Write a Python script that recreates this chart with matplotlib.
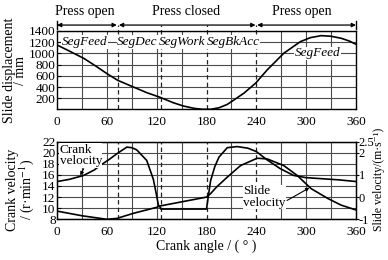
import matplotlib
matplotlib.use("Agg")
import matplotlib.pyplot as plt

plt.rcParams['font.family'] = ['Liberation Serif', 'DejaVu Serif']
plt.rcParams['mathtext.fontset'] = 'stix'

# ---- data ----
disp_angle = [0, 15, 32, 45, 60, 73, 92, 108, 124, 140, 152, 165, 175, 185, 195,
              205, 213, 225, 239, 253, 273, 293, 305, 318, 330, 342, 352, 360]
disp = [1150, 1040, 913, 790, 640, 520, 400, 300, 217, 120, 62, 20, 3, 3, 30,
        90, 169, 290, 467, 704, 1002, 1209, 1280, 1316, 1305, 1270, 1220, 1162]

crank_angle = [0, 15, 32, 45, 52, 62, 72, 84, 90, 96, 108, 116, 120, 122, 124, 125,
               150, 180, 182, 185, 190, 195, 205, 217, 230, 240, 253, 269, 285,
               300, 320, 340, 360]
crank_vel = [14.8, 15.2, 15.9, 16.9, 17.7, 18.7, 19.8, 21.0, 20.9, 20.5, 18.6, 15.2,
             12.2, 10.6, 10.2, 9.85, 9.85, 9.85, 12.0, 15.0, 17.5, 19.2, 20.9, 21.1,
             20.8, 20.2, 18.7, 17.1, 15.9, 15.5, 15.3, 15.1, 14.8]

slide_angle = [0, 30, 60, 72, 92, 120, 124, 152, 180, 185, 192, 205, 221, 241, 253,
               273, 289, 306, 326, 342, 360]
slide_vel = [-0.63, -0.84, -1.0, -0.96, -0.73, -0.46, -0.4, -0.2, 0.0, 0.16, 0.45,
             0.9, 1.42, 1.75, 1.72, 1.42, 0.98, 0.38, -0.06, -0.36, -0.58]

x_ticks = [0, 60, 120, 180, 240, 300, 360]
disp_ticks = [200, 400, 600, 800, 1000, 1200, 1400]
crank_ticks = [8, 10, 12, 14, 16, 18, 20, 22]
slide_ticks = [-1, 0, 1, 2, 2.5]
slide_tick_labels = ['-1', '0', '1', '2', '2.5']

phase_labels = ['Press open', 'Press closed', 'Press open']
phase_x = [33, 155, 295]
seg_labels = ['SegFeed', 'SegDec', 'SegWork', 'SegBkAcc', 'SegFeed']
seg_x = [33, 97, 151, 212, 314]
seg_y = [1200, 1200, 1200, 1200, 1000]
dashed_x = [73, 125, 180, 240]
solid_grid_x = [30, 60, 90, 120, 150, 210, 270, 300, 330]

FS = 9.5
GRID = dict(color='#4a4a4a', lw=0.8)

fig = plt.figure(figsize=(3.88, 2.6), dpi=100)
ax1 = fig.add_axes([0.147, 0.579, 0.7705, 0.302])
ax2 = fig.add_axes([0.147, 0.1565, 0.7705, 0.299])
ax2r = ax2.twinx()

for ax in (ax1, ax2):
    ax.set_xlim(0, 360)
    ax.set_xticks(x_ticks)
    ax.tick_params(axis='x', length=0, pad=5, labelsize=FS)
    ax.tick_params(axis='y', length=3, direction='in', pad=1, labelsize=FS)
    for x in solid_grid_x:
        ax.axvline(x, zorder=0.5, **GRID)
    for s in ax.spines.values():
        s.set_linewidth(1.0)

# ---- top axes ----
ax1.set_ylim(0, 1400)
ax1.set_yticks(disp_ticks)
for y in disp_ticks:
    ax1.axhline(y, zorder=0.5, **GRID)
for x in dashed_x:
    ax1.plot([x, x], [0, 1510], color='#222222', lw=0.9, ls=(0, (3.5, 2.5)),
             clip_on=False, zorder=1)
ax1.plot(disp_angle, disp, color='black', lw=1.2, zorder=3)
ax1.set_ylabel('Slide displacement\n/ mm', fontsize=FS + 0.5, linespacing=0.85)
ax1.yaxis.set_label_coords(-0.1, 0.5)

for xt, yt, t in zip(seg_x, seg_y, seg_labels):
    ax1.text(xt, yt, t, fontsize=FS, style='italic', ha='center', va='center',
             zorder=2, bbox=dict(facecolor='white', edgecolor='none', pad=0.6))

arr_y = 1505
gaps = [(0, 72), (74.5, 239), (241, 360)]
for (a, b) in gaps:
    ax1.annotate('', xy=(b, arr_y), xytext=(a, arr_y),
                 arrowprops=dict(arrowstyle='<|-|>', color='black', lw=0.9,
                                 shrinkA=0, shrinkB=0, mutation_scale=6),
                 annotation_clip=False)
for x in (0, 360):
    ax1.plot([x, x], [arr_y - 70, arr_y + 70], color='black', lw=1.0, clip_on=False)
for xc, lab in zip(phase_x, phase_labels):
    ax1.text(xc, 1740, lab, fontsize=FS + 0.5, ha='center', va='center',
             clip_on=False)

# ---- bottom axes ----
ax2.set_ylim(8, 22)
ax2.set_yticks(crank_ticks)
for y in crank_ticks:
    ax2.axhline(y, zorder=0.5, **GRID)
for x in dashed_x:
    ax2.plot([x, x], [8, 22], color='#222222', lw=0.9, ls=(0, (3.5, 2.5)),
             zorder=1)
ax2.plot(crank_angle, crank_vel, color='black', lw=1.2, zorder=3)
ax2.set_ylabel('Crank velocity\n/ (r·min$^{-1}$)', fontsize=FS + 0.5, linespacing=0.85)
ax2.yaxis.set_label_coords(-0.07, 0.38)
ax2.set_xlabel('Crank angle / ( ° )', fontsize=FS + 0.5, labelpad=1)

ax2r.set_ylim(-1, 2.5)
ax2r.set_yticks(slide_ticks)
ax2r.set_yticklabels(slide_tick_labels)
ax2r.tick_params(axis='y', length=2, direction='out', pad=0, labelsize=FS - 0.5)
ax2r.plot(slide_angle, slide_vel, color='black', lw=1.2, zorder=3)
ax2r.set_ylabel('Slide velocity/(m·s⁻¹)', fontsize=FS - 1)
ax2r.yaxis.set_label_coords(1.058, 0.52)

ax2r.text(3, 19.5 / 4 - 3, 'Crank\nvelocity', fontsize=FS, ha='left', va='center',
          linespacing=0.95, zorder=4,
          bbox=dict(facecolor='white', edgecolor='none', pad=0.3))
ax2r.annotate('', xy=(28, 15.9 / 4 - 3), xytext=(32, 17.1 / 4 - 3),
              arrowprops=dict(arrowstyle='-|>', color='black', lw=0.8,
                              mutation_scale=5, shrinkA=0, shrinkB=0))
ax2r.text(224, 12.0 / 4 - 3, 'Slide\nvelocity', fontsize=FS, ha='left', va='center',
          linespacing=0.95, zorder=4,
          bbox=dict(facecolor='white', edgecolor='none', pad=0.3))
ax2r.annotate('', xy=(304, 0.42), xytext=(277, -0.15),
              arrowprops=dict(arrowstyle='-|>', color='black', lw=0.8,
                              mutation_scale=5, shrinkA=0, shrinkB=0))

fig.savefig('out.png', dpi=100)
